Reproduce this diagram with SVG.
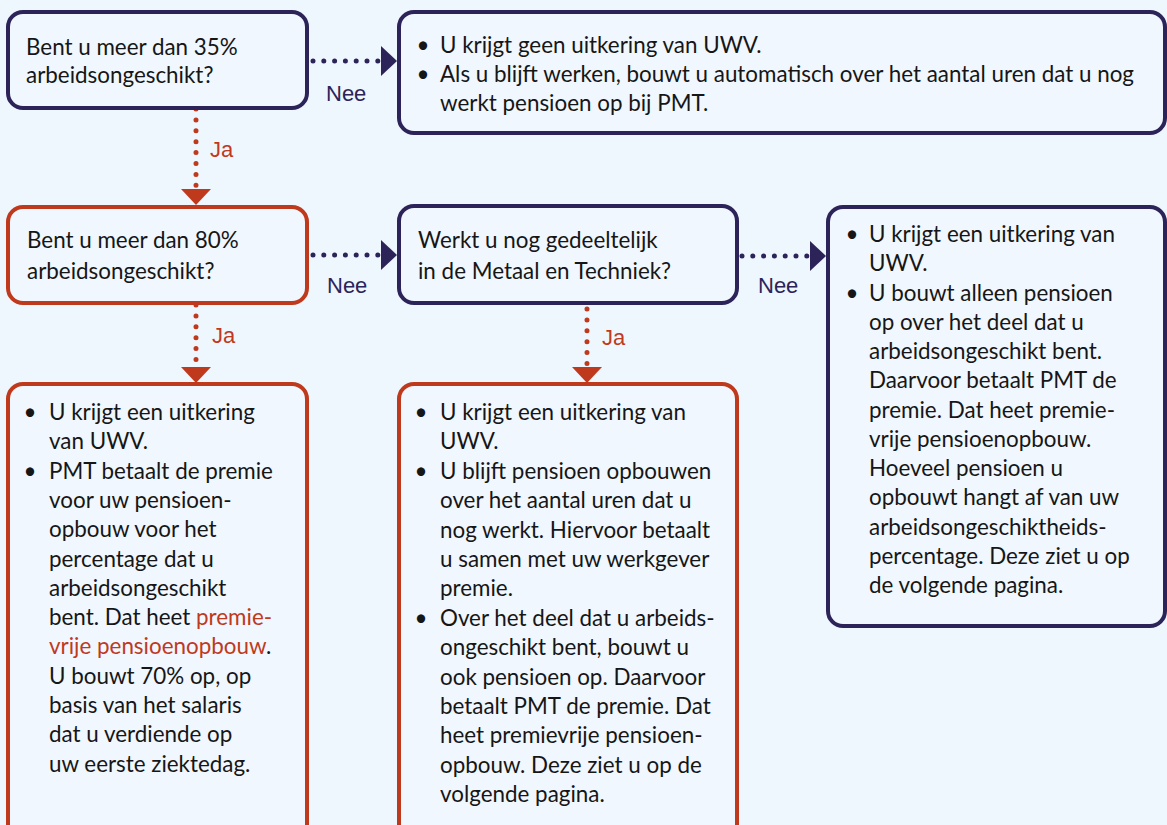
<svg xmlns="http://www.w3.org/2000/svg" width="1167" height="825" viewBox="0 0 1167 825">
<style>
.bg{fill:#eef6fe}
.box{fill:#f0f7fe;stroke-width:4}
.navy{stroke:#2c2459}
.red{stroke:#bf3a1d}
text{font-family:Lato,"Liberation Sans",sans-serif;font-size:22.4px;fill:#161616}
.lbl{font-family:"Liberation Sans",Arial,sans-serif;font-size:22px}
.ln{fill:#2c2459}
.lj{fill:#bf3a1d}
.hl{fill:#bf3a1d}
.dot{fill:none;stroke-width:5;stroke-linecap:round}
.dn{stroke:#2c2459;stroke-dasharray:0 10.8}
.dr{stroke:#bf3a1d;stroke-dasharray:0 10.9}
</style>
<defs>
<marker id="an" markerUnits="userSpaceOnUse" markerWidth="16" markerHeight="30" refX="0" refY="15" orient="auto" viewBox="0 0 16 30"><path d="M0,0 L16,15 L0,30 z" fill="#2c2459"/></marker>
<marker id="ar" markerUnits="userSpaceOnUse" markerWidth="16" markerHeight="30" refX="0" refY="15" orient="auto" viewBox="0 0 16 30"><path d="M0,0 L16,15 L0,30 z" fill="#bf3a1d"/></marker>
</defs>
<rect class="bg" x="0" y="0" width="1167" height="825"/>

<g id="connectors">
<line class="dot dn" x1="313" y1="61" x2="381" y2="61" marker-end="url(#an)"/>
<text class="lbl ln" x="326" y="101">Nee</text>
<line class="dot dr" x1="196" y1="109" x2="196" y2="189" marker-end="url(#ar)"/>
<text class="lbl lj" x="210" y="157">Ja</text>
<line class="dot dn" x1="313" y1="255" x2="381" y2="255" marker-end="url(#an)"/>
<text class="lbl ln" x="327" y="293">Nee</text>
<line class="dot dn" x1="742" y1="256" x2="810" y2="256" marker-end="url(#an)"/>
<text class="lbl ln" x="758" y="293">Nee</text>
<line class="dot dr" x1="196" y1="305" x2="196" y2="367" marker-end="url(#ar)"/>
<text class="lbl lj" x="212" y="343">Ja</text>
<line class="dot dr" x1="587" y1="309" x2="587" y2="367" marker-end="url(#ar)"/>
<text class="lbl lj" x="602" y="345">Ja</text>
</g>

<g id="q35">
<rect class="box navy" x="8" y="12" width="299" height="96" rx="15"/>
<text x="26" y="55">Bent u meer dan 35%<tspan x="26" dy="28">arbeidsongeschikt?</tspan></text>
</g>

<g id="geen-uitkering">
<rect class="box navy" x="399" y="12" width="766" height="121" rx="15"/>
<text x="423" y="53" text-anchor="middle">•</text>
<text x="423" y="82" text-anchor="middle">•</text>
<text x="440" y="53">U krijgt geen uitkering van UWV.<tspan x="440" dy="29">Als u blijft werken, bouwt u automatisch over het aantal uren dat u nog</tspan><tspan x="440" dy="29">werkt pensioen op bij PMT.</tspan></text>
</g>

<g id="q80">
<rect class="box red" x="8" y="207" width="299" height="96" rx="15"/>
<text x="27" y="248">Bent u meer dan 80%<tspan x="27" dy="31">arbeidsongeschikt?</tspan></text>
</g>

<g id="qwerkt">
<rect class="box navy" x="399" y="206" width="338" height="97" rx="15"/>
<text x="418" y="248">Werkt u nog gedeeltelijk<tspan x="418" dy="31">in de Metaal en Techniek?</tspan></text>
</g>

<g id="uitkering-deel">
<rect class="box navy" x="828" y="207" width="337" height="419" rx="15"/>
<text x="852" y="242" text-anchor="middle">•</text>
<text x="852" y="300.5" text-anchor="middle">•</text>
<text x="869" y="242">U krijgt een uitkering van<tspan x="869" dy="29.25">UWV.</tspan><tspan x="869" dy="29.25">U bouwt alleen pensioen</tspan><tspan x="869" dy="29.25">op over het deel dat u</tspan><tspan x="869" dy="29.25">arbeidsongeschikt bent.</tspan><tspan x="869" dy="29.25">Daarvoor betaalt PMT de</tspan><tspan x="869" dy="29.25">premie. Dat heet premie-</tspan><tspan x="869" dy="29.25">vrije pensioenopbouw.</tspan><tspan x="869" dy="29.25">Hoeveel pensioen u</tspan><tspan x="869" dy="29.25">opbouwt hangt af van uw</tspan><tspan x="869" dy="29.25">arbeidsongeschiktheids-</tspan><tspan x="869" dy="29.25">percentage. Deze ziet u op</tspan><tspan x="869" dy="29.25">de volgende pagina.</tspan></text>
</g>

<g id="uitkering-80">
<rect class="box red" x="8" y="384" width="299" height="460" rx="15"/>
<text x="30" y="420" text-anchor="middle">•</text>
<text x="30" y="478.6" text-anchor="middle">•</text>
<text x="49" y="420">U krijgt een uitkering<tspan x="49" dy="29.3">van UWV.</tspan><tspan x="49" dy="29.3">PMT betaalt de premie</tspan><tspan x="49" dy="29.3">voor uw pensioen-</tspan><tspan x="49" dy="29.3">opbouw voor het</tspan><tspan x="49" dy="29.3">percentage dat u</tspan><tspan x="49" dy="29.3">arbeidsongeschikt</tspan><tspan x="49" dy="29.3">bent. Dat heet <tspan class="hl">premie-</tspan></tspan><tspan x="49" dy="29.3"><tspan class="hl">vrije pensioenopbouw</tspan>.</tspan><tspan x="49" dy="29.3">U bouwt 70% op, op</tspan><tspan x="49" dy="29.3">basis van het salaris</tspan><tspan x="49" dy="29.3">dat u verdiende op</tspan><tspan x="49" dy="29.3">uw eerste ziektedag.</tspan></text>
</g>

<g id="uitkering-werkt">
<rect class="box red" x="399" y="384" width="338" height="460" rx="15"/>
<text x="421" y="420" text-anchor="middle">•</text>
<text x="421" y="478.8" text-anchor="middle">•</text>
<text x="421" y="625.8" text-anchor="middle">•</text>
<text x="440" y="420">U krijgt een uitkering van<tspan x="440" dy="29.4">UWV.</tspan><tspan x="440" dy="29.4">U blijft pensioen opbouwen</tspan><tspan x="440" dy="29.4">over het aantal uren dat u</tspan><tspan x="440" dy="29.4">nog werkt. Hiervoor betaalt</tspan><tspan x="440" dy="29.4">u samen met uw werkgever</tspan><tspan x="440" dy="29.4">premie.</tspan><tspan x="440" dy="29.4">Over het deel dat u arbeids-</tspan><tspan x="440" dy="29.4">ongeschikt bent, bouwt u</tspan><tspan x="440" dy="29.4">ook pensioen op. Daarvoor</tspan><tspan x="440" dy="29.4">betaalt PMT de premie. Dat</tspan><tspan x="440" dy="29.4">heet premievrije pensioen-</tspan><tspan x="440" dy="29.4">opbouw. Deze ziet u op de</tspan><tspan x="440" dy="29.4">volgende pagina.</tspan></text>
</g>
</svg>
